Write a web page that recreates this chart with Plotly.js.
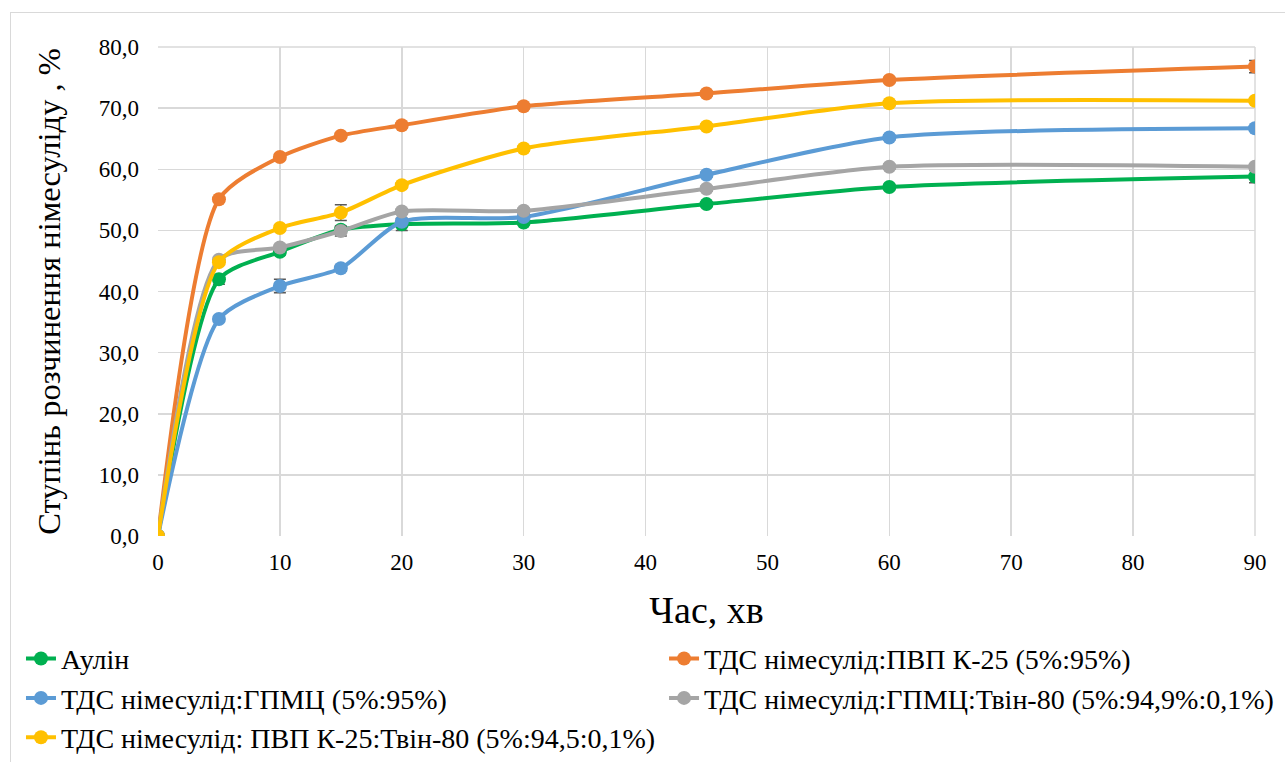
<!DOCTYPE html>
<html>
<head>
<meta charset="utf-8">
<script src="https://cdn.plot.ly/plotly-3.0.1.min.js"></script>
<style>
html,body{margin:0;padding:0;background:#fff;overflow:hidden;}
#wrap{position:relative;width:1285px;height:762px;}
#frame{position:absolute;left:10px;top:12px;width:1290px;height:770px;border:1px solid #d9d9d9;pointer-events:none;}
#chart{position:absolute;left:0;top:0;width:1285px;height:762px;}
</style>
</head>
<body>
<div id="wrap"><div id="frame"></div><div id="chart"></div></div>
<script>
const time = [0, 5, 10, 15, 20, 30, 45, 60, 90];
const seriesNames = [
  "Аулін",
  "ТДС німесулід:ПВП К-25 (5%:95%)",
  "ТДС німесулід:ГПМЦ (5%:95%)",
  "ТДС німесулід:ГПМЦ:Твін-80 (5%:94,9%:0,1%)",
  "ТДС німесулід: ПВП К-25:Твін-80 (5%:94,5:0,1%)"
];
const aulin      = [0, 42.0, 46.5, 50.1, 51.0, 51.3, 54.3, 57.1, 58.8];
const pvp        = [0, 55.1, 62.0, 65.5, 67.2, 70.3, 72.4, 74.6, 76.8];
const hpmc       = [0, 35.5, 40.9, 43.8, 51.4, 52.2, 59.1, 65.2, 66.7];
const hpmcTween  = [0, 45.2, 47.2, 49.9, 53.1, 53.2, 56.8, 60.4, 60.4];
const pvpTween   = [0, 44.8, 50.4, 52.9, 57.4, 63.4, 67.0, 70.8, 71.2];
const aulinErr     = [0, 0.8, 0.5, 0.4, 1.0, 0.4, 0.4, 0.4, 1.0];
const pvpErr       = [0, 0.4, 0.4, 0.4, 0.4, 0.4, 0.4, 0.4, 1.0];
const hpmcErr      = [0, 0.4, 1.1, 0.5, 0.5, 0.4, 0.4, 0.4, 0.4];
const hpmcTweenErr = [0, 0.4, 0.5, 0.8, 0.4, 0.4, 0.4, 0.4, 0.4];
const pvpTweenErr  = [0, 0.4, 0.4, 1.3, 0.4, 0.4, 0.4, 0.4, 0.4];
const colors = ["#00b050", "#ed7d31", "#5b9bd5", "#a5a5a5", "#ffc000"];
const legendOf = ["legend", "legend2", "legend", "legend2", "legend"];

const values = [aulin, pvp, hpmc, hpmcTween, pvpTween];
const errs = [aulinErr, pvpErr, hpmcErr, hpmcTweenErr, pvpTweenErr];

const traces = values.map((v, i) => ({
  x: time, y: v, name: seriesNames[i], type: 'scatter', mode: 'lines+markers',
  legend: legendOf[i],
  line: {color: colors[i], width: 4, shape: 'spline', smoothing: 0.7},
  marker: {color: colors[i], size: 14},
  error_y: {type: 'data', array: errs[i], visible: true, color: '#595959', thickness: 1.5, width: 6}
}));

const font = "Liberation Serif, Times New Roman, serif";
const legendCommon = {
  orientation: 'v', yanchor: 'top', xanchor: 'left', y: -0.2,
  font: {family: font, size: 28, color: '#000'}, tracegroupgap: 0, itemwidth: 30,
  bgcolor: 'rgba(0,0,0,0)', borderwidth: 0
};
const layout = {
  width: 1285, height: 762,
  margin: {l: 158, r: 30, t: 47, b: 226, autoexpand: false},
  paper_bgcolor: 'rgba(0,0,0,0)', plot_bgcolor: 'rgba(0,0,0,0)',
  separators: ',.',
  font: {family: font, size: 23, color: '#000'},
  showlegend: true,
  xaxis: {
    range: [0, 90], tickvals: [0,10,20,30,40,50,60,70,80,90],
    showgrid: true, gridcolor: '#d9d9d9', gridwidth: 1.5, zeroline: false,
    showline: false, ticks: '', tickfont: {family: font, size: 23},
    ticklabelstandoff: 10, automargin: true,
    title: {text: 'Час, хв', font: {family: font, size: 38}, standoff: 22}
  },
  yaxis: {
    range: [0, 80], dtick: 10, tickformat: '.1f',
    showgrid: true, gridcolor: '#d9d9d9', gridwidth: 1.5, zeroline: false,
    showline: false, ticks: '', tickfont: {family: font, size: 23},
    ticklabelstandoff: 18, automargin: true,
    title: {text: 'Ступінь розчинення німесуліду , %', font: {family: font, size: 32.5}, standoff: 28}
  },
  shapes: [
    {type: 'line', xref: 'paper', yref: 'paper', x0: 1, x1: 1, y0: 0, y1: 1, line: {color: '#d9d9d9', width: 1.5}, layer: 'below'},
    {type: 'line', xref: 'paper', yref: 'paper', x0: 0, x1: 1, y0: 1, y1: 1, line: {color: '#d9d9d9', width: 1.5}, layer: 'below'}
  ],
  legend: Object.assign({}, legendCommon, {x: -0.1249}),
  legend2: Object.assign({}, legendCommon, {x: 0.4613})
};
Plotly.newPlot('chart', traces, layout, {displayModeBar: false, staticPlot: true});
</script>
</body>
</html>
